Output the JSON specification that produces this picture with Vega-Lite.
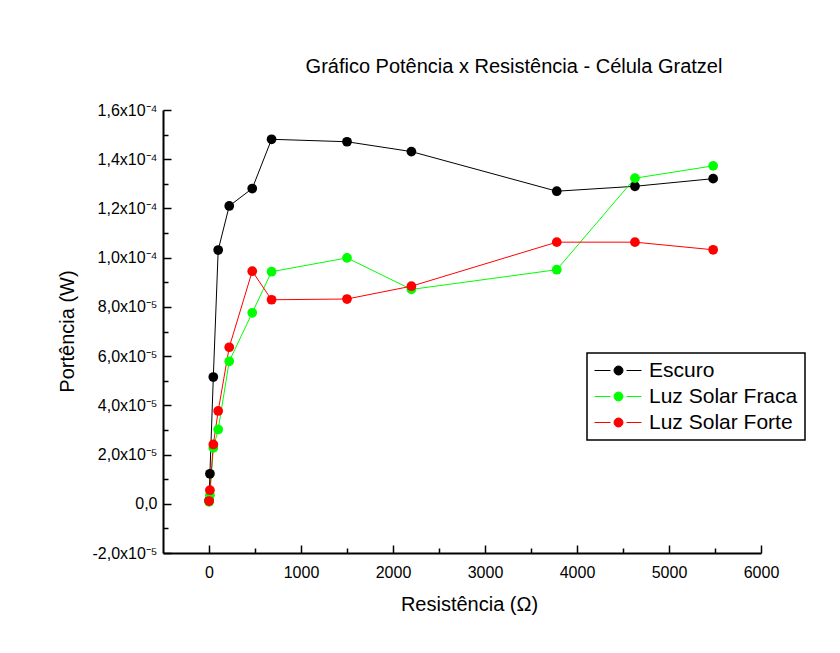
{
  "$schema": "https://vega.github.io/schema/vega-lite/v6.json",
  "width": 598,
  "height": 443,
  "autosize": "none",
  "padding": {"left": 163, "top": 110, "right": 79, "bottom": 100},
  "background": "white",
  "config": {"view": {"stroke": null}, "font": "Liberation Sans"},
  "title": {
    "text": "Gráfico Potência x Resistência - Célula Gratzel",
    "fontSize": 20,
    "fontWeight": "normal",
    "font": "Liberation Sans",
    "color": "black",
    "anchor": "middle",
    "dx": 52,
    "offset": 25
  },
  "data": {
    "values": [
      {"R": 1, "P": 0.0000013, "serie": "Escuro"},
      {"R": 10, "P": 0.0000122, "serie": "Escuro"},
      {"R": 47, "P": 0.0000515, "serie": "Escuro"},
      {"R": 100, "P": 0.0001031, "serie": "Escuro"},
      {"R": 220, "P": 0.000121, "serie": "Escuro"},
      {"R": 470, "P": 0.0001281, "serie": "Escuro"},
      {"R": 680, "P": 0.0001481, "serie": "Escuro"},
      {"R": 1500, "P": 0.0001471, "serie": "Escuro"},
      {"R": 2200, "P": 0.0001431, "serie": "Escuro"},
      {"R": 3780, "P": 0.000127, "serie": "Escuro"},
      {"R": 4630, "P": 0.000129, "serie": "Escuro"},
      {"R": 5480, "P": 0.0001321, "serie": "Escuro"},
      {"R": 1, "P": 0.0000008, "serie": "Luz Solar Fraca"},
      {"R": 10, "P": 0.0000035, "serie": "Luz Solar Fraca"},
      {"R": 47, "P": 0.0000227, "serie": "Luz Solar Fraca"},
      {"R": 100, "P": 0.0000302, "serie": "Luz Solar Fraca"},
      {"R": 220, "P": 0.0000579, "serie": "Luz Solar Fraca"},
      {"R": 470, "P": 0.0000776, "serie": "Luz Solar Fraca"},
      {"R": 680, "P": 0.0000943, "serie": "Luz Solar Fraca"},
      {"R": 1500, "P": 0.0000999, "serie": "Luz Solar Fraca"},
      {"R": 2200, "P": 0.0000871, "serie": "Luz Solar Fraca"},
      {"R": 3780, "P": 0.0000951, "serie": "Luz Solar Fraca"},
      {"R": 4630, "P": 0.0001323, "serie": "Luz Solar Fraca"},
      {"R": 5480, "P": 0.0001373, "serie": "Luz Solar Fraca"},
      {"R": 1, "P": 0.0000011, "serie": "Luz Solar Forte"},
      {"R": 10, "P": 0.0000055, "serie": "Luz Solar Forte"},
      {"R": 47, "P": 0.0000241, "serie": "Luz Solar Forte"},
      {"R": 100, "P": 0.0000377, "serie": "Luz Solar Forte"},
      {"R": 220, "P": 0.0000636, "serie": "Luz Solar Forte"},
      {"R": 470, "P": 0.0000945, "serie": "Luz Solar Forte"},
      {"R": 680, "P": 0.0000829, "serie": "Luz Solar Forte"},
      {"R": 1500, "P": 0.0000832, "serie": "Luz Solar Forte"},
      {"R": 2200, "P": 0.0000884, "serie": "Luz Solar Forte"},
      {"R": 3780, "P": 0.0001063, "serie": "Luz Solar Forte"},
      {"R": 4630, "P": 0.0001063, "serie": "Luz Solar Forte"},
      {"R": 5480, "P": 0.0001032, "serie": "Luz Solar Forte"}
    ]
  },
  "resolve": {"axis": {"x": "independent", "y": "independent"}},
  "layer": [
    {
      "mark": {"type": "point", "opacity": 0},
      "encoding": {
        "x": {
          "field": "R",
          "type": "quantitative",
          "scale": {"domain": [-500, 6000], "nice": false, "zero": false},
          "axis": {
            "orient": "bottom",
            "values": [500, 1500, 2500, 3500, 4500, 5500],
            "labels": false,
            "domain": false,
            "grid": false,
            "title": null,
            "tickSize": -5,
            "tickColor": "black",
            "tickWidth": 1.5
          }
        },
        "y": {
          "field": "P",
          "type": "quantitative",
          "scale": {"domain": [-0.00002, 0.00016], "nice": false, "zero": false},
          "axis": {
            "orient": "left",
            "values": [-0.00001, 0.00001, 0.00003, 0.00005, 0.00007, 0.00009, 0.00011, 0.00013, 0.00015],
            "labels": false,
            "domain": false,
            "grid": false,
            "title": null,
            "tickSize": -5,
            "tickColor": "black",
            "tickWidth": 1.5
          }
        }
      }
    },
    {
      "mark": {
        "type": "line",
        "strokeWidth": 1,
        "point": {"size": 95, "filled": true, "opacity": 1}
      },
      "encoding": {
        "x": {
          "field": "R",
          "type": "quantitative",
          "scale": {"domain": [-500, 6000], "nice": false, "zero": false},
          "axis": {
            "orient": "bottom",
            "values": [0, 1000, 2000, 3000, 4000, 5000, 6000],
            "format": "d",
            "labelFont": "Liberation Sans",
            "labelFontSize": 16,
            "labelColor": "black",
            "labelPadding": 19,
            "labelFlush": false,
            "tickSize": -8,
            "tickColor": "black",
            "tickWidth": 1.5,
            "domainColor": "black",
            "domainWidth": 2,
            "grid": false,
            "title": "Resistência (Ω)",
            "titleFont": "Liberation Sans",
            "titleFontSize": 20,
            "titleFontWeight": "normal",
            "titleColor": "black",
            "titleX": 306,
            "titleY": 51,
            "titleAlign": "center",
            "titleBaseline": "middle"
          }
        },
        "y": {
          "field": "P",
          "type": "quantitative",
          "scale": {"domain": [-0.00002, 0.00016], "nice": false, "zero": false},
          "axis": {
            "orient": "left",
            "values": [-0.00002, 0, 0.00002, 0.00004, 0.00006, 0.00008, 0.0001, 0.00012, 0.00014, 0.00016],
            "labelExpr": "datum.value < 0 ? '-2,0x10⁻⁵' : (abs(datum.value) < 1e-9 ? '0,0' : (datum.value >= 0.0000999 ? replace(format(datum.value*1e4, '.1f'), '.', ',') + 'x10⁻⁴' : replace(format(datum.value*1e5, '.1f'), '.', ',') + 'x10⁻⁵'))",
            "labelFont": "Liberation Sans",
            "labelFontSize": 16,
            "labelColor": "black",
            "labelPadding": 14,
            "labelFlush": false,
            "tickSize": -8,
            "tickColor": "black",
            "tickWidth": 1.5,
            "domainColor": "black",
            "domainWidth": 2,
            "grid": false,
            "title": "Portência (W)",
            "titleFont": "Liberation Sans",
            "titleFontSize": 20,
            "titleFontWeight": "normal",
            "titleColor": "black",
            "titleX": -96,
            "titleY": 221,
            "titleAngle": -90,
            "titleAlign": "center",
            "titleBaseline": "middle"
          }
        },
        "color": {
          "field": "serie",
          "type": "nominal",
          "scale": {
            "domain": ["Escuro", "Luz Solar Fraca", "Luz Solar Forte"],
            "range": ["#000000", "#00ff00", "#ff0000"]
          },
          "legend": {
            "title": null,
            "orient": "none",
            "legendX": 424,
            "legendY": 243,
            "strokeColor": "black",
            "fillColor": "white",
            "padding": 7,
            "cornerRadius": 0,
            "labelFont": "Liberation Sans",
            "labelFontSize": 21,
            "labelColor": "black",
            "labelOffset": 34,
            "rowPadding": 4,
            "symbolType": "M-1,0L0.6,0M2.2,0L3.7,0M0.95,0A0.45,0.45,0,1,1,1.85,0A0.45,0.45,0,1,1,0.95,0Z",
            "symbolSize": 400,
            "symbolStrokeWidth": 1,
            "symbolOpacity": 1,
            "encode": {
              "legend": {"update": {"strokeWidth": {"value": 1.5}}},
              "symbols": {"update": {"fill": {"scale": "color", "field": "value"}, "opacity": {"value": 1}}}
            }
          }
        }
      }
    }
  ]
}
